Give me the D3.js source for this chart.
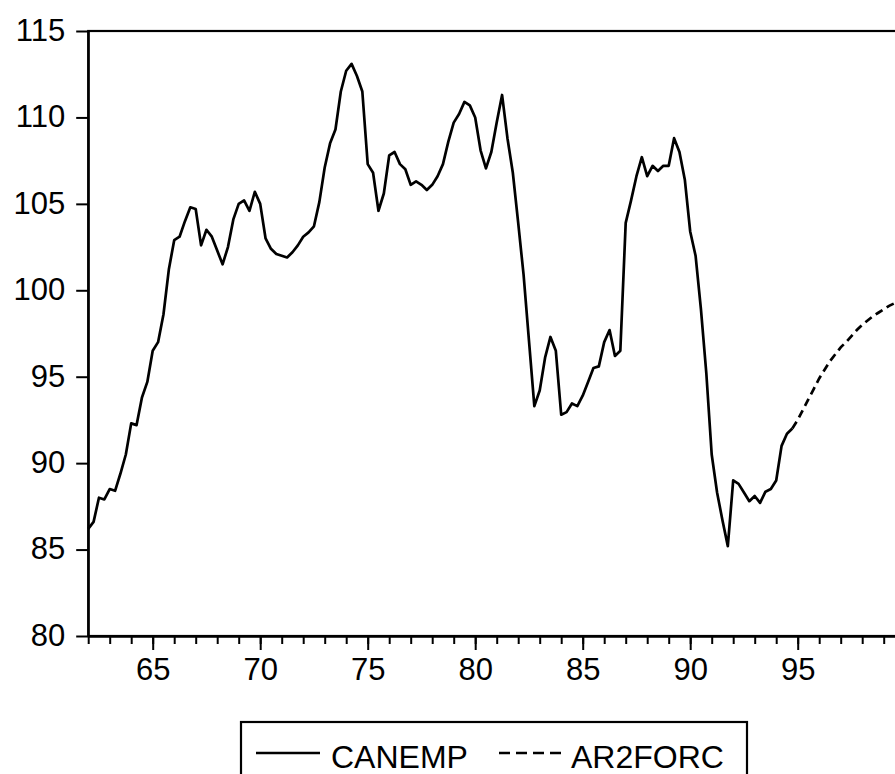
<!DOCTYPE html>
<html>
<head>
<meta charset="utf-8">
<script src="https://cdn.jsdelivr.net/npm/d3@7"></script>
<style>
  body { margin: 0; background: #fff; }
  svg { display: block; }
  text { font-family: "Liberation Sans", Arial, sans-serif; fill: #000; }
</style>
</head>
<body>
<script>
// quarterly data, 1962Q1 .. 1994Q4
var startYear = 1962;
var canemp = [
  86.2, 86.6, 88.0, 87.9,   88.5, 88.4, 89.4, 90.5,   92.3, 92.2, 93.8, 94.7,
  96.5, 97.0, 98.6, 101.2,  102.9, 103.1, 104.0, 104.8, 104.7, 102.6, 103.5, 103.1,
  102.3, 101.5, 102.5, 104.1, 105.0, 105.2, 104.6, 105.7, 105.0, 103.0, 102.4, 102.1,
  102.0, 101.9, 102.2, 102.6, 103.1, 103.35, 103.7, 105.1, 107.1, 108.5, 109.3, 111.5,
  112.7, 113.1, 112.4, 111.5, 107.3, 106.8, 104.6, 105.6, 107.8, 108.0, 107.3, 107.0,
  106.1, 106.3, 106.1, 105.8, 106.1, 106.6, 107.3, 108.6, 109.7, 110.2, 110.9, 110.7,
  110.0, 108.1, 107.05, 108.0, 109.7, 111.3, 108.8, 106.8, 103.9, 100.9, 97.1, 93.3,
  94.2, 96.1, 97.3, 96.5,   92.8, 92.95, 93.45, 93.3, 93.9, 94.7, 95.5, 95.6,
  97.0, 97.7, 96.2, 96.5,   103.9, 105.2, 106.6, 107.7, 106.6, 107.2, 106.9, 107.2,
  107.2, 108.8, 108.0, 106.4, 103.4, 102.0, 98.9, 95.2,  90.5, 88.3, 86.7, 85.2,
  89.0, 88.8, 88.3, 87.8,   88.1, 87.7, 88.35, 88.5,  89.0, 91.0, 91.7, 92.0
];
// forecast, 1994Q4 .. 1999Q4
var forcStart = 1994.75;
var ar2forc = [
  92.0, 92.5, 93.1, 93.7, 94.3, 94.9, 95.4, 95.9, 96.3, 96.7, 97.0,
  97.35, 97.7, 98.0, 98.25, 98.5, 98.7, 98.9, 99.1, 99.25, 99.4
];
var yTicks = [80, 85, 90, 95, 100, 105, 110, 115];
var xMajor = [1965, 1970, 1975, 1980, 1985, 1990, 1995];
var legendNames = ["CANEMP", "AR2FORC"];

// set up
var W = 895, H = 774;
var plotLeft = 88.2, plotTop = 31, plotBottom = 636;
var xEnd = 2000;
var svg = d3.select("body").append("svg").attr("width", W).attr("height", H);

var x = d3.scaleLinear().domain([startYear, xEnd]).range([plotLeft, plotLeft + 21.5 * (xEnd - startYear)]);
var y = d3.scaleLinear().domain([80, 115]).range([plotBottom, plotTop]);

// frame (right side falls outside the picture)
svg.append("rect")
  .attr("x", x(startYear)).attr("y", y(115))
  .attr("width", x(xEnd) - x(startYear)).attr("height", y(80) - y(115))
  .attr("fill", "none").attr("stroke", "#000").attr("stroke-width", 2.2);

// x axis: minor ticks every year, major every 5
var years = d3.range(startYear, xEnd + 1);
var xMinor = svg.append("g").attr("transform", "translate(0," + plotBottom + ")")
  .call(d3.axisBottom(x).tickValues(years).tickSize(8).tickSizeOuter(0).tickFormat(""));
var xAxis = svg.append("g").attr("transform", "translate(0," + plotBottom + ")")
  .call(d3.axisBottom(x).tickValues(xMajor).tickSize(14).tickSizeOuter(0).tickPadding(8)
    .tickFormat(function(d) { return String(d).slice(2); }));
[xMinor, xAxis].forEach(function(g) {
  g.select(".domain").attr("stroke-width", 2.2);
  g.selectAll(".tick line").attr("stroke-width", 2);
});
xAxis.selectAll("text").style("font-size", "31px");

// y axis
var yAxis = svg.append("g").attr("transform", "translate(" + plotLeft + ",0)")
  .call(d3.axisLeft(y).tickValues(yTicks).tickSize(12).tickSizeOuter(0).tickPadding(11));
yAxis.select(".domain").attr("stroke-width", 2.2);
yAxis.selectAll(".tick line").attr("stroke-width", 2);
yAxis.selectAll("text").style("font-size", "31px").attr("dy", "0.3em");

// lines
var line = d3.line()
  .x(function(d) { return x(d.t); })
  .y(function(d) { return y(d.v); });
var actual = canemp.map(function(v, i) { return { t: startYear + i / 4, v: v }; });
var forc = ar2forc.map(function(v, i) { return { t: forcStart + i / 4, v: v }; });

svg.append("path").datum(forc).attr("d", line)
  .attr("fill", "none").attr("stroke", "#000").attr("stroke-width", 2.7)
  .attr("stroke-dasharray", "8,5");
svg.append("path").datum(actual).attr("d", line)
  .attr("fill", "none").attr("stroke", "#000").attr("stroke-width", 2.7)
  .attr("stroke-linejoin", "round");

// legend
var lg = svg.append("g");
lg.append("rect").attr("x", 241).attr("y", 722).attr("width", 506).attr("height", 80)
  .attr("fill", "none").attr("stroke", "#000").attr("stroke-width", 2.2);
lg.append("line").attr("x1", 256).attr("x2", 320).attr("y1", 753).attr("y2", 753)
  .attr("stroke", "#000").attr("stroke-width", 2.5);
lg.append("text").attr("x", 331).attr("y", 768).style("font-size", "32px").text(legendNames[0]);
lg.append("line").attr("x1", 499).attr("x2", 561).attr("y1", 753).attr("y2", 753)
  .attr("stroke", "#000").attr("stroke-width", 2.5).attr("stroke-dasharray", "11,6");
lg.append("text").attr("x", 571).attr("y", 768).style("font-size", "32px").text(legendNames[1]);
</script>
</body>
</html>
